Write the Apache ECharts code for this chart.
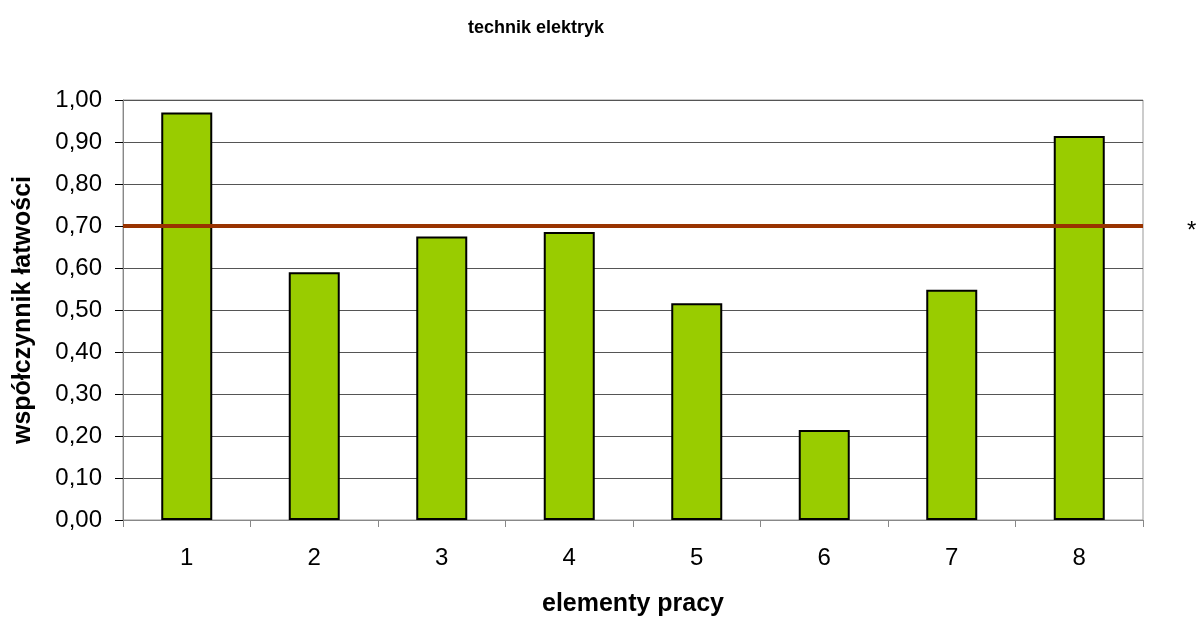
<!DOCTYPE html>
<html>
<head>
<meta charset="utf-8">
<script src="https://cdn.jsdelivr.net/npm/echarts@6/dist/echarts.min.js"></script>
<style>
html,body{margin:0;padding:0;background:#fff;}
#chart{width:1199px;height:617px;}
</style>
</head>
<body>
<div id="chart"></div>
<script>
const categories = ['1','2','3','4','5','6','7','8'];
const values = [0.97, 0.59, 0.675, 0.686, 0.516, 0.214, 0.548, 0.914];
const threshold = [0.696];
const yTicks = {min: 0, max: 1, interval: 0.1};

const chart = echarts.init(document.getElementById('chart'));
const font = '"Liberation Sans", Arial, sans-serif';
chart.setOption({
  animation: false,
  backgroundColor: '#fff',
  title: {
    text: 'technik elektryk',
    left: 531, top: 14, textAlign: 'center',
    textStyle: {fontFamily: font, fontSize: 18, fontWeight: 'bold', color: '#000'}
  },
  grid: {left: 123, right: 56, top: 100, height: 420, outerBoundsMode: 'none', containLabel: false,
    show: true, borderColor: '#999', borderWidth: 1, backgroundColor: 'transparent'},
  xAxis: {
    type: 'category',
    data: categories,
    boundaryGap: true,
    name: 'elementy pracy',
    nameLocation: 'middle',
    nameGap: 72,
    nameTextStyle: {fontFamily: font, fontSize: 25, fontWeight: 'bold', color: '#000'},
    axisLine: {lineStyle: {color: '#888', width: 1}},
    axisTick: {show: true, length: 7, lineStyle: {color: '#888'}},
    axisLabel: {fontFamily: font, fontSize: 24, color: '#000', margin: 26}
  },
  yAxis: {
    type: 'value',
    min: yTicks.min, max: yTicks.max, interval: yTicks.interval,
    name: 'współczynnik łatwości',
    nameLocation: 'middle',
    nameGap: 87,
    nameTextStyle: {fontFamily: font, fontSize: 25, fontWeight: 'bold', color: '#000'},
    axisLine: {show: true, lineStyle: {color: '#888', width: 1}},
    axisTick: {show: true, length: 8, lineStyle: {color: '#000'}},
    axisLabel: {fontFamily: font, fontSize: 24, color: '#000', margin: 21,
      formatter: v => v.toFixed(2).replace('.', ',')},
    splitLine: {show: true, lineStyle: {color: '#555', width: 1}}
  },
  series: [{
    type: 'bar',
    data: values,
    barWidth: 51,
    itemStyle: {color: '#99cc00', borderColor: '#000', borderWidth: 2},
    markLine: {
      silent: true,
      symbol: ['none', 'none'],
      label: {show: false},
      lineStyle: {color: '#993300', width: 4, type: 'solid'},
      data: [{yAxis: threshold[0]}]
    }
  }],
  graphic: [{
    type: 'text',
    left: 1187, top: 219,
    style: {text: '*', fontFamily: font, fontSize: 24, fill: '#000'}
  }]
});
</script>
</body>
</html>
